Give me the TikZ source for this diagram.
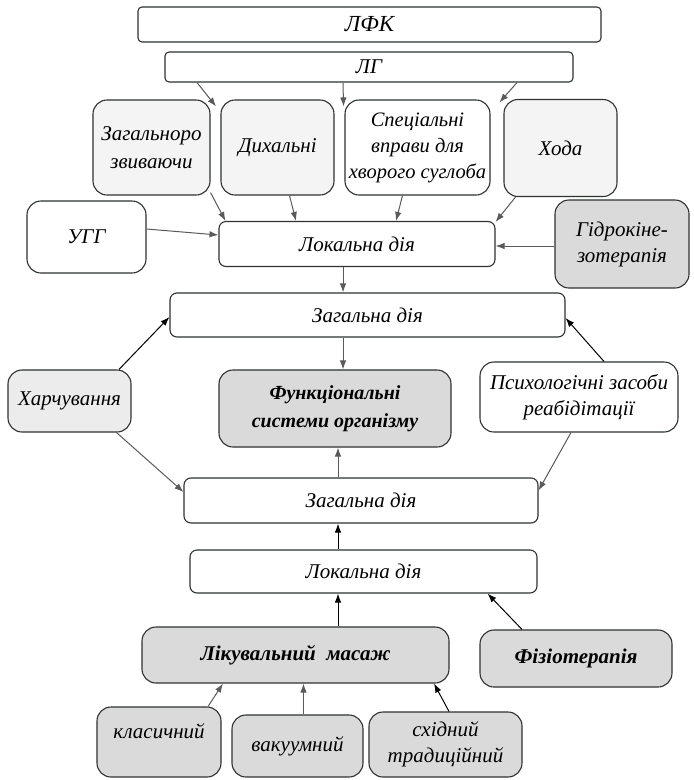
\documentclass[tikz,border=0pt]{standalone}
\usepackage{fontspec}
\setmainfont{Liberation Serif}[ItalicFont={Liberation Serif Italic},BoldItalicFont={Liberation Serif Bold Italic},BoldFont={Liberation Serif Bold}]
\usetikzlibrary{arrows.meta}
\definecolor{bordc}{HTML}{2E332E}
\definecolor{arrg}{HTML}{5A5A5A}
\definecolor{fillA}{HTML}{DADADA}
\definecolor{fillB}{HTML}{ECECEC}
\definecolor{fillC}{HTML}{F4F4F4}
\begin{document}
\begin{tikzpicture}[x=1pt,y=-1pt,
  box/.style={draw=bordc, line width=1.1pt, rounded corners=7pt, align=center,
    font=\fontsize{21}{26}\selectfont\itshape, inner sep=2pt, fill=white, text=black},
  bigr/.style={rounded corners=14pt},
  arr/.style={-{Latex[length=9pt,width=6.5pt]}, line width=1pt, draw=arrg},
  arrk/.style={arr, draw=black}]
\useasboundingbox (0,0) rectangle (694,780);
\fill[white] (0,0) rectangle (694,780);

\node[box, rounded corners=4pt, minimum width=463pt, minimum height=35pt] (lfk) at (369.5,24.5) {\fontsize{23}{26}\selectfont ЛФК};
\node[box, rounded corners=4pt, minimum width=408pt, minimum height=30pt] (lg) at (369,67) {ЛГ};

\node[box, bigr, fill=fillC, minimum width=117pt, minimum height=95pt, font=\fontsize{21}{28}\selectfont\itshape] (zag) at (151.5,147.5) {Загальноро\\звиваючи};
\node[box, bigr, fill=fillC, minimum width=113pt, minimum height=95pt] (dyh) at (277.5,147.5) {Дихальні};
\node[box, bigr, minimum width=145pt, minimum height=95pt, font=\fontsize{20.5}{26}\selectfont\itshape] (spec) at (417.5,147.5) {Спеціальні\\вправи для\\хворого суглоба};
\node[box, bigr, fill=fillC, minimum width=113pt, minimum height=97pt] (hoda) at (560.5,148) {Хода};

\node[box, bigr, minimum width=119pt, minimum height=72pt] (ugg) at (86.5,237) {УГГ};
\node[box, minimum width=276pt, minimum height=45pt] (lok1) at (357,244) {Локальна дія};
\node[box, bigr, fill=fillA, minimum width=134pt, minimum height=88pt] (hydro) at (622,244) {Гідрокіне-\\зотерапія};

\node[box, minimum width=395pt, minimum height=44pt] (zd1) at (367.5,315) {Загальна дія};

\node[box, bigr, fill=fillB, minimum width=123pt, minimum height=62pt] (harch) at (69.5,401) {Харчування};
\node[box, bigr, fill=fillA, minimum width=232pt, minimum height=77pt, font=\fontsize{20}{28}\selectfont\bfseries\itshape] (func) at (335,408.5) {Функціональні\\системи організму};
\node[box, bigr, minimum width=198pt, minimum height=70pt] (psych) at (579,397) {Психологічні засоби\\реабідітації};

\node[box, minimum width=354pt, minimum height=45pt] (zd2) at (361,500.5) {Загальна дія};
\node[box, minimum width=347pt, minimum height=43pt] (lok2) at (363.5,571.5) {Локальна дія};

\node[box, bigr, fill=fillA, minimum width=307pt, minimum height=56pt, font=\fontsize{21}{26}\selectfont\bfseries\itshape] (lik) at (295.5,655) {Лікувальний\ \ масаж};
\node[box, bigr, fill=fillA, minimum width=192pt, minimum height=57pt, font=\fontsize{21}{26}\selectfont\bfseries\itshape] (fiz) at (576,658.5) {Фізіотерапія};

\node[box, bigr, fill=fillA, minimum width=124pt, minimum height=70pt, text depth=22pt] (klas) at (159,742) {класичний};
\node[box, bigr, fill=fillA, minimum width=131pt, minimum height=62pt] (vak) at (297.5,746) {вакуумний};
\node[box, bigr, fill=fillA, minimum width=153pt, minimum height=65pt] (shid) at (445.5,744.5) {східний\\традиційний};

% arrows
\draw[arr] ([xshift=-172pt]lg.south) -- ([shift={(5.5pt,-7pt)}]zag.north east);
\draw[arr] ([xshift=-26pt]lg.south) -- ([shift={(9pt,-7pt)}]dyh.north east);
\draw[arr] ([xshift=148pt]lg.south) -- ([shift={(-4pt,-3.5pt)}]hoda.north west);

\draw[arr] ([yshift=3pt]zag.south east) -- ([xshift=7pt]lok1.north west);
\draw[arr] ([xshift=12pt]dyh.south) -- ([xshift=-61pt]lok1.north);
\draw[arr] ([xshift=-15pt]spec.south) -- ([xshift=39pt]lok1.north);
\draw[arr] ([xshift=-45pt]hoda.south) -- ([yshift=-1pt]lok1.north east);
\draw[arr] ([yshift=8pt]ugg.east) -- ([yshift=9pt]lok1.west);
\draw[arr] ([yshift=-2pt]hydro.west) -- ([yshift=-2pt]lok1.east);

\draw[arr] ([xshift=-14pt]lok1.south) -- ([xshift=-24.5pt]zd1.north);
\draw[arr] ([xshift=-24.5pt]zd1.south) -- ([xshift=8pt]func.north);
\draw[arrk] ([xshift=49.5pt]harch.north) -- ([yshift=-2pt]zd1.west);
\draw[arrk] ([xshift=25pt]psych.north) -- ([yshift=-3pt]zd1.east);
\draw[arr] ([xshift=47pt]harch.south) -- ([yshift=8.5pt]zd2.west);
\draw[arr] ([xshift=-8pt]psych.south) -- ([yshift=10pt]zd2.east);
\draw[arr] ([xshift=-23pt]zd2.north) -- ([xshift=3pt]func.south);

\draw[arrk] ([xshift=-25.5pt]lok2.north) -- ([xshift=-23pt]zd2.south);
\draw[arrk] ([xshift=42.5pt]lik.north) -- ([xshift=-25.5pt]lok2.south);
\draw[arrk] ([xshift=-54pt]fiz.north) -- ([xshift=-50pt]lok2.south east);

\draw[arr] ([xshift=49pt]klas.north) -- ([xshift=-72.5pt]lik.south);
\draw[arr] ([xshift=6pt]vak.north) -- ([xshift=8pt]lik.south);
\draw[arrk] ([xshift=3.5pt]shid.north) -- ([xshift=138.5pt]lik.south);
\end{tikzpicture}
\end{document}
